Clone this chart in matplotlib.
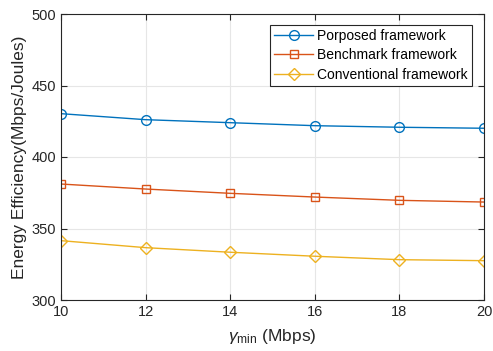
import matplotlib
matplotlib.use("Agg")
import matplotlib.pyplot as plt

plt.rcParams["font.family"] = ["Liberation Sans", "DejaVu Sans"]
plt.rcParams["mathtext.fontset"] = "custom"
plt.rcParams["mathtext.rm"] = "Liberation Sans"
plt.rcParams["mathtext.it"] = "Liberation Sans:italic"

# gamma_min values (Mbps)
gamma_min = [10, 12, 14, 16, 18, 20]

proposed = [430.3, 426.1, 424.0, 421.9, 420.8, 420.1]
benchmark = [381.1, 377.6, 374.6, 372.0, 369.7, 368.5]
conventional = [341.5, 336.6, 333.4, 330.6, 328.2, 327.5]

fig = plt.figure(figsize=(4.93, 3.51), dpi=100)
ax = fig.add_axes([61 / 493, 1 - 300 / 351, 423 / 493, 286 / 351])

ax.plot(gamma_min, proposed, color="#0072BD", marker="o", markersize=7,
        markerfacecolor="none", linewidth=1, label="Porposed framework")
ax.plot(gamma_min, benchmark, color="#D95319", marker="s", markersize=6,
        markerfacecolor="none", linewidth=1, label="Benchmark framework")
ax.plot(gamma_min, conventional, color="#EDB120", marker="D", markersize=6.5,
        markerfacecolor="none", linewidth=1, label="Conventional framework")

ax.set_xlim(10, 20)
ax.set_ylim(300, 500)
ax.set_xticks([10, 12, 14, 16, 18, 20])
ax.set_yticks([300, 350, 400, 450, 500])
ax.tick_params(direction="in", top=True, right=True, labelsize=10.5,
               color="#262626", labelcolor="#262626", length=4)
ax.grid(True, color="#e6e6e6", linewidth=0.8)
ax.set_axisbelow(True)
for s in ax.spines.values():
    s.set_color("#262626")
    s.set_linewidth(0.8)

ax.set_xlabel(r"$\gamma_{\mathrm{min}}$ (Mbps)", fontsize=12.5, color="#262626",
              labelpad=6)
ax.set_ylabel("Energy Efficiency(Mbps/Joules)", fontsize=12.5, color="#262626",
              labelpad=3)

leg = ax.legend(loc="upper right", bbox_to_anchor=(0.972, 0.963), fontsize=10,
                fancybox=False, edgecolor="#262626", framealpha=1,
                handlelength=2.8, borderpad=0.3, labelspacing=0.4,
                handletextpad=0.3, borderaxespad=0)
leg.get_frame().set_linewidth(0.8)

fig.savefig("out.png", dpi=100)
